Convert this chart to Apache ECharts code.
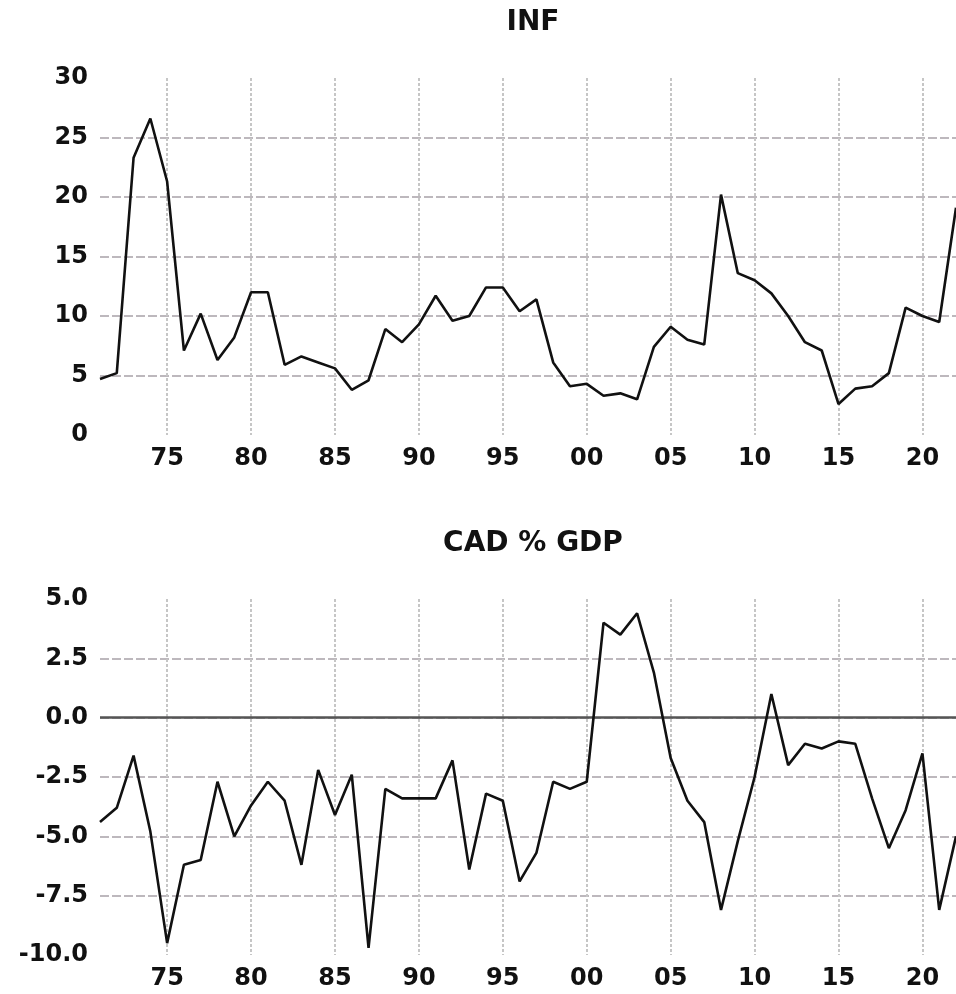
<!DOCTYPE html>
<html>
<head>
<meta charset="utf-8">
<script src="https://cdn.jsdelivr.net/npm/echarts@6/dist/echarts.min.js"></script>
<style>
  html, body { margin: 0; padding: 0; background: #fff; }
  #chart { width: 956px; height: 994px; }
</style>
</head>
<body>
<div id="chart"></div>
<script>
const years = [
  1971, 1972, 1973, 1974, 1975, 1976, 1977, 1978, 1979, 1980,
  1981, 1982, 1983, 1984, 1985, 1986, 1987, 1988, 1989, 1990,
  1991, 1992, 1993, 1994, 1995, 1996, 1997, 1998, 1999, 2000,
  2001, 2002, 2003, 2004, 2005, 2006, 2007, 2008, 2009, 2010,
  2011, 2012, 2013, 2014, 2015, 2016, 2017, 2018, 2019, 2020,
  2021, 2022
]

const infValues = [
  4.7, 5.2, 23.3, 26.6, 21.3, 7.1, 10.2, 6.3, 8.2, 12.0,
  12.0, 5.9, 6.6, 6.1, 5.6, 3.8, 4.6, 8.9, 7.8, 9.3,
  11.7, 9.6, 10.0, 12.4, 12.4, 10.4, 11.4, 6.1, 4.1, 4.3,
  3.3, 3.5, 3.0, 7.4, 9.1, 8.0, 7.6, 20.2, 13.6, 13.0,
  11.9, 10.0, 7.8, 7.1, 2.6, 3.9, 4.1, 5.2, 10.7, 10.0,
  9.5, 19.1
]

const cadValues = [
  -4.4, -3.8, -1.6, -4.8, -9.5, -6.2, -6.0, -2.7, -5.0, -3.7,
  -2.7, -3.5, -6.2, -2.2, -4.1, -2.4, -9.7, -3.0, -3.4, -3.4,
  -3.4, -1.8, -6.4, -3.2, -3.5, -6.9, -5.7, -2.7, -3.0, -2.7,
  4.0, 3.5, 4.4, 1.9, -1.7, -3.5, -4.4, -8.1, -5.2, -2.5,
  1.0, -2.0, -1.1, -1.3, -1.0, -1.1, -3.4, -5.5, -3.9, -1.5,
  -8.1, -5.0
]

const infTicks = { min: 0, max: 30, interval: 5 }
const cadTicks = { min: -10, max: 5, interval: 2.5 }

const labelFont = { fontFamily: 'DejaVu Sans', fontWeight: 'bold', fontSize: 24, color: '#111' }
const isTickYear = (idx) => years[idx] % 5 === 0

function xAxisFor(gridIndex) {
  return {
    type: 'category',
    gridIndex,
    data: years,
    boundaryGap: false,
    axisLine: { show: false },
    axisTick: { show: false },
    axisLabel: {
      ...labelFont,
      margin: 12,
      interval: isTickYear,
      formatter: (v) => String(v % 100).padStart(2, '0')
    },
    splitLine: {
      show: true,
      interval: isTickYear,
      lineStyle: { color: '#c6c6c6', width: 2, type: [3, 2] }
    }
  }
}

function yAxisFor(gridIndex, ticks, digits) {
  return {
    type: 'value',
    gridIndex,
    min: ticks.min,
    max: ticks.max,
    interval: ticks.interval,
    axisLine: { show: false },
    axisTick: { show: false },
    axisLabel: {
      ...labelFont,
      margin: 12,
      formatter: (v) => v.toFixed(digits)
    },
    splitLine: {
      show: true,
      showMinLine: false,
      showMaxLine: false,
      lineStyle: { color: '#bdb8bd', width: 2, type: [9, 3] }
    }
  }
}

const titleStyle = { fontFamily: 'DejaVu Sans', fontWeight: 'bold', fontSize: 28, color: '#111' }

const option = {
  animation: false,
  backgroundColor: '#fff',
  title: [
    { text: 'INF', left: 528, top: 4, textAlign: 'center', textStyle: titleStyle },
    { text: 'CAD % GDP', left: 528, top: 525, textAlign: 'center', textStyle: titleStyle }
  ],
  grid: [
    { left: 100, right: 0, top: 78, height: 357 },
    { left: 100, right: 0, top: 599, height: 356 }
  ],
  xAxis: [xAxisFor(0), xAxisFor(1)],
  yAxis: [yAxisFor(0, infTicks, 0), yAxisFor(1, cadTicks, 1)],
  series: [
    {
      name: 'INF',
      type: 'line',
      xAxisIndex: 0,
      yAxisIndex: 0,
      data: infValues,
      symbol: 'none',
      lineStyle: { color: '#111', width: 2.6 }
    },
    {
      name: 'CAD % GDP',
      type: 'line',
      xAxisIndex: 1,
      yAxisIndex: 1,
      data: cadValues,
      symbol: 'none',
      z: 3,
      lineStyle: { color: '#111', width: 2.6 },
      markLine: {
        silent: true,
        symbol: 'none',
        label: { show: false },
        lineStyle: { color: '#555', width: 2.5, type: 'solid' },
        data: [{ yAxis: 0 }],
        z: 1
      }
    }
  ]
}

const chart = echarts.init(document.getElementById('chart'))
chart.setOption(option)
</script>
</body>
</html>
